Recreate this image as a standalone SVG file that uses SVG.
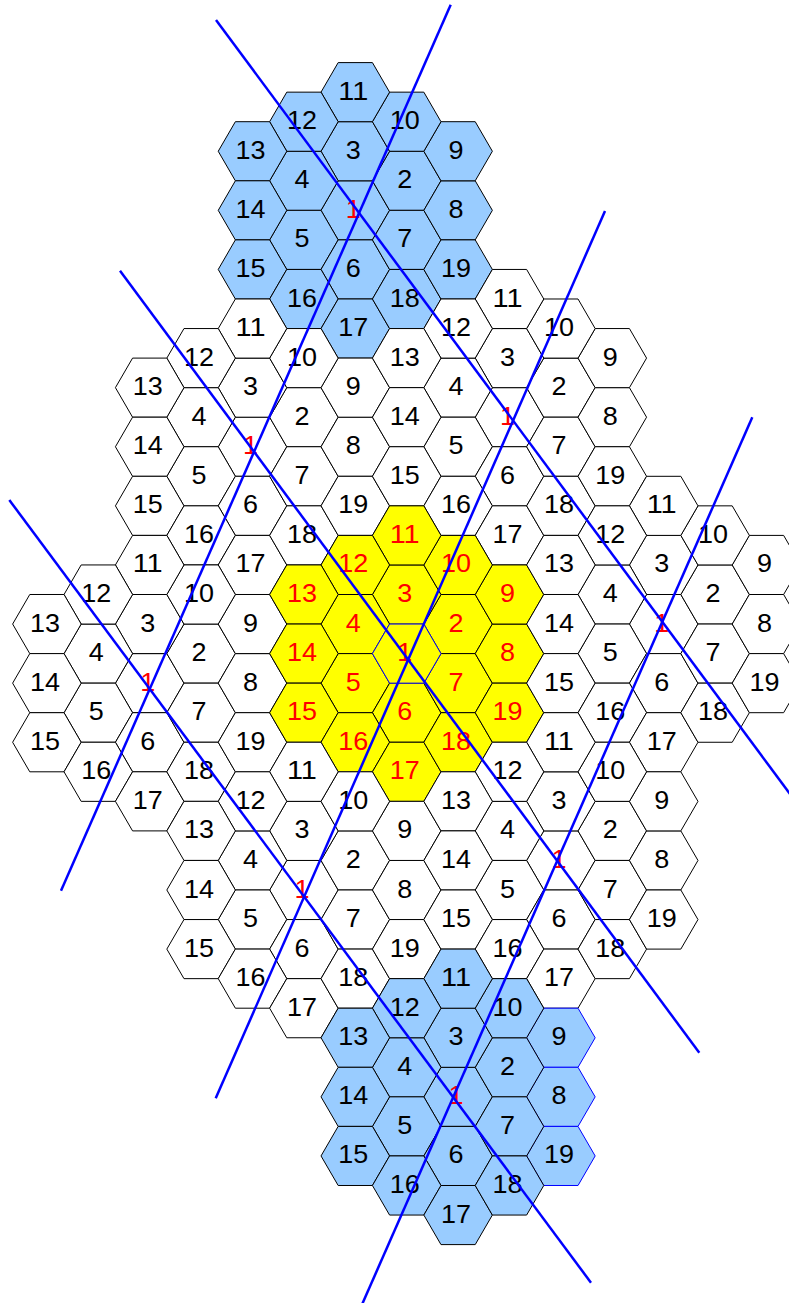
<svg xmlns="http://www.w3.org/2000/svg" width="789" height="1303" viewBox="0 0 789 1303">
<style>
.w{fill:#ffffff;stroke:#000000;stroke-width:1}
.b{fill:#99ccff;stroke:#000000;stroke-width:1}
.y{fill:#ffff00;stroke:#000000;stroke-width:1}
.bs{stroke:#0000ff}
text{font-family:"Liberation Sans",Arial,sans-serif;font-size:25.5px;text-anchor:middle;fill:#000000}
text.r{fill:#ff0000}
.ln{stroke:#0000ff;stroke-width:2.5;fill:none}
</style>
<defs>
<polygon id="hx" points="-34.27,0 -17.13,-29.55 17.13,-29.55 34.27,0 17.13,29.55 -17.13,29.55"/>
</defs>
<rect width="789" height="1303" fill="#ffffff"/>
<g id="cluster-top">
<g id="t1" transform="translate(355.3,210.35)"><use href="#hx" class="b"/><text class="r" x="-2" y="7.5" textLength="15" lengthAdjust="spacingAndGlyphs">1</text></g>
<g id="t2" transform="translate(406.7,180.8)"><use href="#hx" class="b"/><text x="-2" y="7.5" textLength="15" lengthAdjust="spacingAndGlyphs">2</text></g>
<g id="t3" transform="translate(355.3,151.25)"><use href="#hx" class="b"/><text x="-2" y="7.5" textLength="15" lengthAdjust="spacingAndGlyphs">3</text></g>
<g id="t4" transform="translate(303.9,180.8)"><use href="#hx" class="b"/><text x="-2" y="7.5" textLength="15" lengthAdjust="spacingAndGlyphs">4</text></g>
<g id="t5" transform="translate(303.9,239.9)"><use href="#hx" class="b"/><text x="-2" y="7.5" textLength="15" lengthAdjust="spacingAndGlyphs">5</text></g>
<g id="t6" transform="translate(355.3,269.45)"><use href="#hx" class="b"/><text x="-2" y="7.5" textLength="15" lengthAdjust="spacingAndGlyphs">6</text></g>
<g id="t7" transform="translate(406.7,239.9)"><use href="#hx" class="b"/><text x="-2" y="7.5" textLength="15" lengthAdjust="spacingAndGlyphs">7</text></g>
<g id="t8" transform="translate(458.1,210.35)"><use href="#hx" class="b"/><text x="-2" y="7.5" textLength="15" lengthAdjust="spacingAndGlyphs">8</text></g>
<g id="t9" transform="translate(458.1,151.25)"><use href="#hx" class="b"/><text x="-2" y="7.5" textLength="15" lengthAdjust="spacingAndGlyphs">9</text></g>
<g id="t10" transform="translate(406.7,121.7)"><use href="#hx" class="b"/><text x="-2" y="7.5" textLength="30" lengthAdjust="spacingAndGlyphs">10</text></g>
<g id="t11" transform="translate(355.3,92.15)"><use href="#hx" class="b"/><text x="-2" y="7.5" textLength="30" lengthAdjust="spacingAndGlyphs">11</text></g>
<g id="t12" transform="translate(303.9,121.7)"><use href="#hx" class="b"/><text x="-2" y="7.5" textLength="30" lengthAdjust="spacingAndGlyphs">12</text></g>
<g id="t13" transform="translate(252.5,151.25)"><use href="#hx" class="b"/><text x="-2" y="7.5" textLength="30" lengthAdjust="spacingAndGlyphs">13</text></g>
<g id="t14" transform="translate(252.5,210.35)"><use href="#hx" class="b"/><text x="-2" y="7.5" textLength="30" lengthAdjust="spacingAndGlyphs">14</text></g>
<g id="t15" transform="translate(252.5,269.45)"><use href="#hx" class="b"/><text x="-2" y="7.5" textLength="30" lengthAdjust="spacingAndGlyphs">15</text></g>
<g id="t16" transform="translate(303.9,299)"><use href="#hx" class="b"/><text x="-2" y="7.5" textLength="30" lengthAdjust="spacingAndGlyphs">16</text></g>
<g id="t17" transform="translate(355.3,328.55)"><use href="#hx" class="b"/><text x="-2" y="7.5" textLength="30" lengthAdjust="spacingAndGlyphs">17</text></g>
<g id="t18" transform="translate(406.7,299)"><use href="#hx" class="b"/><text x="-2" y="7.5" textLength="30" lengthAdjust="spacingAndGlyphs">18</text></g>
<g id="t19" transform="translate(458.1,269.45)"><use href="#hx" class="b"/><text x="-2" y="7.5" textLength="30" lengthAdjust="spacingAndGlyphs">19</text></g>
</g>
<g id="cluster-nw">
<g id="nw1" transform="translate(252.5,446.75)"><use href="#hx" class="w"/><text class="r" x="-2" y="7.5" textLength="15" lengthAdjust="spacingAndGlyphs">1</text></g>
<g id="nw2" transform="translate(303.9,417.2)"><use href="#hx" class="w"/><text x="-2" y="7.5" textLength="15" lengthAdjust="spacingAndGlyphs">2</text></g>
<g id="nw3" transform="translate(252.5,387.65)"><use href="#hx" class="w"/><text x="-2" y="7.5" textLength="15" lengthAdjust="spacingAndGlyphs">3</text></g>
<g id="nw4" transform="translate(201.1,417.2)"><use href="#hx" class="w"/><text x="-2" y="7.5" textLength="15" lengthAdjust="spacingAndGlyphs">4</text></g>
<g id="nw5" transform="translate(201.1,476.3)"><use href="#hx" class="w"/><text x="-2" y="7.5" textLength="15" lengthAdjust="spacingAndGlyphs">5</text></g>
<g id="nw6" transform="translate(252.5,505.85)"><use href="#hx" class="w"/><text x="-2" y="7.5" textLength="15" lengthAdjust="spacingAndGlyphs">6</text></g>
<g id="nw7" transform="translate(303.9,476.3)"><use href="#hx" class="w"/><text x="-2" y="7.5" textLength="15" lengthAdjust="spacingAndGlyphs">7</text></g>
<g id="nw8" transform="translate(355.3,446.75)"><use href="#hx" class="w"/><text x="-2" y="7.5" textLength="15" lengthAdjust="spacingAndGlyphs">8</text></g>
<g id="nw9" transform="translate(355.3,387.65)"><use href="#hx" class="w"/><text x="-2" y="7.5" textLength="15" lengthAdjust="spacingAndGlyphs">9</text></g>
<g id="nw10" transform="translate(303.9,358.1)"><use href="#hx" class="w"/><text x="-2" y="7.5" textLength="30" lengthAdjust="spacingAndGlyphs">10</text></g>
<g id="nw11" transform="translate(252.5,328.55)"><use href="#hx" class="w"/><text x="-2" y="7.5" textLength="30" lengthAdjust="spacingAndGlyphs">11</text></g>
<g id="nw12" transform="translate(201.1,358.1)"><use href="#hx" class="w"/><text x="-2" y="7.5" textLength="30" lengthAdjust="spacingAndGlyphs">12</text></g>
<g id="nw13" transform="translate(149.7,387.65)"><use href="#hx" class="w"/><text x="-2" y="7.5" textLength="30" lengthAdjust="spacingAndGlyphs">13</text></g>
<g id="nw14" transform="translate(149.7,446.75)"><use href="#hx" class="w"/><text x="-2" y="7.5" textLength="30" lengthAdjust="spacingAndGlyphs">14</text></g>
<g id="nw15" transform="translate(149.7,505.85)"><use href="#hx" class="w"/><text x="-2" y="7.5" textLength="30" lengthAdjust="spacingAndGlyphs">15</text></g>
<g id="nw16" transform="translate(201.1,535.4)"><use href="#hx" class="w"/><text x="-2" y="7.5" textLength="30" lengthAdjust="spacingAndGlyphs">16</text></g>
<g id="nw17" transform="translate(252.5,564.95)"><use href="#hx" class="w"/><text x="-2" y="7.5" textLength="30" lengthAdjust="spacingAndGlyphs">17</text></g>
<g id="nw18" transform="translate(303.9,535.4)"><use href="#hx" class="w"/><text x="-2" y="7.5" textLength="30" lengthAdjust="spacingAndGlyphs">18</text></g>
<g id="nw19" transform="translate(355.3,505.85)"><use href="#hx" class="w"/><text x="-2" y="7.5" textLength="30" lengthAdjust="spacingAndGlyphs">19</text></g>
</g>
<g id="cluster-ne">
<g id="ne1" transform="translate(509.5,417.2)"><use href="#hx" class="w"/><text class="r" x="-2" y="7.5" textLength="15" lengthAdjust="spacingAndGlyphs">1</text></g>
<g id="ne2" transform="translate(560.9,387.65)"><use href="#hx" class="w"/><text x="-2" y="7.5" textLength="15" lengthAdjust="spacingAndGlyphs">2</text></g>
<g id="ne3" transform="translate(509.5,358.1)"><use href="#hx" class="w"/><text x="-2" y="7.5" textLength="15" lengthAdjust="spacingAndGlyphs">3</text></g>
<g id="ne4" transform="translate(458.1,387.65)"><use href="#hx" class="w"/><text x="-2" y="7.5" textLength="15" lengthAdjust="spacingAndGlyphs">4</text></g>
<g id="ne5" transform="translate(458.1,446.75)"><use href="#hx" class="w"/><text x="-2" y="7.5" textLength="15" lengthAdjust="spacingAndGlyphs">5</text></g>
<g id="ne6" transform="translate(509.5,476.3)"><use href="#hx" class="w"/><text x="-2" y="7.5" textLength="15" lengthAdjust="spacingAndGlyphs">6</text></g>
<g id="ne7" transform="translate(560.9,446.75)"><use href="#hx" class="w"/><text x="-2" y="7.5" textLength="15" lengthAdjust="spacingAndGlyphs">7</text></g>
<g id="ne8" transform="translate(612.3,417.2)"><use href="#hx" class="w"/><text x="-2" y="7.5" textLength="15" lengthAdjust="spacingAndGlyphs">8</text></g>
<g id="ne9" transform="translate(612.3,358.1)"><use href="#hx" class="w"/><text x="-2" y="7.5" textLength="15" lengthAdjust="spacingAndGlyphs">9</text></g>
<g id="ne10" transform="translate(560.9,328.55)"><use href="#hx" class="w"/><text x="-2" y="7.5" textLength="30" lengthAdjust="spacingAndGlyphs">10</text></g>
<g id="ne11" transform="translate(509.5,299)"><use href="#hx" class="w"/><text x="-2" y="7.5" textLength="30" lengthAdjust="spacingAndGlyphs">11</text></g>
<g id="ne12" transform="translate(458.1,328.55)"><use href="#hx" class="w"/><text x="-2" y="7.5" textLength="30" lengthAdjust="spacingAndGlyphs">12</text></g>
<g id="ne13" transform="translate(406.7,358.1)"><use href="#hx" class="w"/><text x="-2" y="7.5" textLength="30" lengthAdjust="spacingAndGlyphs">13</text></g>
<g id="ne14" transform="translate(406.7,417.2)"><use href="#hx" class="w"/><text x="-2" y="7.5" textLength="30" lengthAdjust="spacingAndGlyphs">14</text></g>
<g id="ne15" transform="translate(406.7,476.3)"><use href="#hx" class="w"/><text x="-2" y="7.5" textLength="30" lengthAdjust="spacingAndGlyphs">15</text></g>
<g id="ne16" transform="translate(458.1,505.85)"><use href="#hx" class="w"/><text x="-2" y="7.5" textLength="30" lengthAdjust="spacingAndGlyphs">16</text></g>
<g id="ne17" transform="translate(509.5,535.4)"><use href="#hx" class="w"/><text x="-2" y="7.5" textLength="30" lengthAdjust="spacingAndGlyphs">17</text></g>
<g id="ne18" transform="translate(560.9,505.85)"><use href="#hx" class="w"/><text x="-2" y="7.5" textLength="30" lengthAdjust="spacingAndGlyphs">18</text></g>
<g id="ne19" transform="translate(612.3,476.3)"><use href="#hx" class="w"/><text x="-2" y="7.5" textLength="30" lengthAdjust="spacingAndGlyphs">19</text></g>
</g>
<g id="cluster-w">
<g id="w1" transform="translate(149.7,683.15)"><use href="#hx" class="w"/><text class="r" x="-2" y="7.5" textLength="15" lengthAdjust="spacingAndGlyphs">1</text></g>
<g id="w2" transform="translate(201.1,653.6)"><use href="#hx" class="w"/><text x="-2" y="7.5" textLength="15" lengthAdjust="spacingAndGlyphs">2</text></g>
<g id="w3" transform="translate(149.7,624.05)"><use href="#hx" class="w"/><text x="-2" y="7.5" textLength="15" lengthAdjust="spacingAndGlyphs">3</text></g>
<g id="w4" transform="translate(98.3,653.6)"><use href="#hx" class="w"/><text x="-2" y="7.5" textLength="15" lengthAdjust="spacingAndGlyphs">4</text></g>
<g id="w5" transform="translate(98.3,712.7)"><use href="#hx" class="w"/><text x="-2" y="7.5" textLength="15" lengthAdjust="spacingAndGlyphs">5</text></g>
<g id="w6" transform="translate(149.7,742.25)"><use href="#hx" class="w"/><text x="-2" y="7.5" textLength="15" lengthAdjust="spacingAndGlyphs">6</text></g>
<g id="w7" transform="translate(201.1,712.7)"><use href="#hx" class="w"/><text x="-2" y="7.5" textLength="15" lengthAdjust="spacingAndGlyphs">7</text></g>
<g id="w8" transform="translate(252.5,683.15)"><use href="#hx" class="w"/><text x="-2" y="7.5" textLength="15" lengthAdjust="spacingAndGlyphs">8</text></g>
<g id="w9" transform="translate(252.5,624.05)"><use href="#hx" class="w"/><text x="-2" y="7.5" textLength="15" lengthAdjust="spacingAndGlyphs">9</text></g>
<g id="w10" transform="translate(201.1,594.5)"><use href="#hx" class="w"/><text x="-2" y="7.5" textLength="30" lengthAdjust="spacingAndGlyphs">10</text></g>
<g id="w11" transform="translate(149.7,564.95)"><use href="#hx" class="w"/><text x="-2" y="7.5" textLength="30" lengthAdjust="spacingAndGlyphs">11</text></g>
<g id="w12" transform="translate(98.3,594.5)"><use href="#hx" class="w"/><text x="-2" y="7.5" textLength="30" lengthAdjust="spacingAndGlyphs">12</text></g>
<g id="w13" transform="translate(46.9,624.05)"><use href="#hx" class="w"/><text x="-2" y="7.5" textLength="30" lengthAdjust="spacingAndGlyphs">13</text></g>
<g id="w14" transform="translate(46.9,683.15)"><use href="#hx" class="w"/><text x="-2" y="7.5" textLength="30" lengthAdjust="spacingAndGlyphs">14</text></g>
<g id="w15" transform="translate(46.9,742.25)"><use href="#hx" class="w"/><text x="-2" y="7.5" textLength="30" lengthAdjust="spacingAndGlyphs">15</text></g>
<g id="w16" transform="translate(98.3,771.8)"><use href="#hx" class="w"/><text x="-2" y="7.5" textLength="30" lengthAdjust="spacingAndGlyphs">16</text></g>
<g id="w17" transform="translate(149.7,801.35)"><use href="#hx" class="w"/><text x="-2" y="7.5" textLength="30" lengthAdjust="spacingAndGlyphs">17</text></g>
<g id="w18" transform="translate(201.1,771.8)"><use href="#hx" class="w"/><text x="-2" y="7.5" textLength="30" lengthAdjust="spacingAndGlyphs">18</text></g>
<g id="w19" transform="translate(252.5,742.25)"><use href="#hx" class="w"/><text x="-2" y="7.5" textLength="30" lengthAdjust="spacingAndGlyphs">19</text></g>
</g>
<g id="cluster-center">
<g id="c2" transform="translate(458.1,624.05)"><use href="#hx" class="y"/><text class="r" x="-2" y="7.5" textLength="15" lengthAdjust="spacingAndGlyphs">2</text></g>
<g id="c3" transform="translate(406.7,594.5)"><use href="#hx" class="y"/><text class="r" x="-2" y="7.5" textLength="15" lengthAdjust="spacingAndGlyphs">3</text></g>
<g id="c4" transform="translate(355.3,624.05)"><use href="#hx" class="y"/><text class="r" x="-2" y="7.5" textLength="15" lengthAdjust="spacingAndGlyphs">4</text></g>
<g id="c5" transform="translate(355.3,683.15)"><use href="#hx" class="y"/><text class="r" x="-2" y="7.5" textLength="15" lengthAdjust="spacingAndGlyphs">5</text></g>
<g id="c6" transform="translate(406.7,712.7)"><use href="#hx" class="y"/><text class="r" x="-2" y="7.5" textLength="15" lengthAdjust="spacingAndGlyphs">6</text></g>
<g id="c7" transform="translate(458.1,683.15)"><use href="#hx" class="y"/><text class="r" x="-2" y="7.5" textLength="15" lengthAdjust="spacingAndGlyphs">7</text></g>
<g id="c8" transform="translate(509.5,653.6)"><use href="#hx" class="y"/><text class="r" x="-2" y="7.5" textLength="15" lengthAdjust="spacingAndGlyphs">8</text></g>
<g id="c9" transform="translate(509.5,594.5)"><use href="#hx" class="y"/><text class="r" x="-2" y="7.5" textLength="15" lengthAdjust="spacingAndGlyphs">9</text></g>
<g id="c10" transform="translate(458.1,564.95)"><use href="#hx" class="y"/><text class="r" x="-2" y="7.5" textLength="30" lengthAdjust="spacingAndGlyphs">10</text></g>
<g id="c11" transform="translate(406.7,535.4)"><use href="#hx" class="y"/><text class="r" x="-2" y="7.5" textLength="30" lengthAdjust="spacingAndGlyphs">11</text></g>
<g id="c12" transform="translate(355.3,564.95)"><use href="#hx" class="y"/><text class="r" x="-2" y="7.5" textLength="30" lengthAdjust="spacingAndGlyphs">12</text></g>
<g id="c13" transform="translate(303.9,594.5)"><use href="#hx" class="y"/><text class="r" x="-2" y="7.5" textLength="30" lengthAdjust="spacingAndGlyphs">13</text></g>
<g id="c14" transform="translate(303.9,653.6)"><use href="#hx" class="y"/><text class="r" x="-2" y="7.5" textLength="30" lengthAdjust="spacingAndGlyphs">14</text></g>
<g id="c15" transform="translate(303.9,712.7)"><use href="#hx" class="y"/><text class="r" x="-2" y="7.5" textLength="30" lengthAdjust="spacingAndGlyphs">15</text></g>
<g id="c16" transform="translate(355.3,742.25)"><use href="#hx" class="y"/><text class="r" x="-2" y="7.5" textLength="30" lengthAdjust="spacingAndGlyphs">16</text></g>
<g id="c17" transform="translate(406.7,771.8)"><use href="#hx" class="y"/><text class="r" x="-2" y="7.5" textLength="30" lengthAdjust="spacingAndGlyphs">17</text></g>
<g id="c18" transform="translate(458.1,742.25)"><use href="#hx" class="y"/><text class="r" x="-2" y="7.5" textLength="30" lengthAdjust="spacingAndGlyphs">18</text></g>
<g id="c19" transform="translate(509.5,712.7)"><use href="#hx" class="y"/><text class="r" x="-2" y="7.5" textLength="30" lengthAdjust="spacingAndGlyphs">19</text></g>
<g id="c1" transform="translate(406.7,653.6)"><use href="#hx" class="y bs"/><text class="r" x="-2" y="7.5" textLength="15" lengthAdjust="spacingAndGlyphs">1</text></g>
</g>
<g id="cluster-e">
<g id="e1" transform="translate(663.7,624.05)"><use href="#hx" class="w"/><text class="r" x="-2" y="7.5" textLength="15" lengthAdjust="spacingAndGlyphs">1</text></g>
<g id="e2" transform="translate(715.1,594.5)"><use href="#hx" class="w"/><text x="-2" y="7.5" textLength="15" lengthAdjust="spacingAndGlyphs">2</text></g>
<g id="e3" transform="translate(663.7,564.95)"><use href="#hx" class="w"/><text x="-2" y="7.5" textLength="15" lengthAdjust="spacingAndGlyphs">3</text></g>
<g id="e4" transform="translate(612.3,594.5)"><use href="#hx" class="w"/><text x="-2" y="7.5" textLength="15" lengthAdjust="spacingAndGlyphs">4</text></g>
<g id="e5" transform="translate(612.3,653.6)"><use href="#hx" class="w"/><text x="-2" y="7.5" textLength="15" lengthAdjust="spacingAndGlyphs">5</text></g>
<g id="e6" transform="translate(663.7,683.15)"><use href="#hx" class="w"/><text x="-2" y="7.5" textLength="15" lengthAdjust="spacingAndGlyphs">6</text></g>
<g id="e7" transform="translate(715.1,653.6)"><use href="#hx" class="w"/><text x="-2" y="7.5" textLength="15" lengthAdjust="spacingAndGlyphs">7</text></g>
<g id="e8" transform="translate(766.5,624.05)"><use href="#hx" class="w"/><text x="-2" y="7.5" textLength="15" lengthAdjust="spacingAndGlyphs">8</text></g>
<g id="e9" transform="translate(766.5,564.95)"><use href="#hx" class="w"/><text x="-2" y="7.5" textLength="15" lengthAdjust="spacingAndGlyphs">9</text></g>
<g id="e10" transform="translate(715.1,535.4)"><use href="#hx" class="w"/><text x="-2" y="7.5" textLength="30" lengthAdjust="spacingAndGlyphs">10</text></g>
<g id="e11" transform="translate(663.7,505.85)"><use href="#hx" class="w"/><text x="-2" y="7.5" textLength="30" lengthAdjust="spacingAndGlyphs">11</text></g>
<g id="e12" transform="translate(612.3,535.4)"><use href="#hx" class="w"/><text x="-2" y="7.5" textLength="30" lengthAdjust="spacingAndGlyphs">12</text></g>
<g id="e13" transform="translate(560.9,564.95)"><use href="#hx" class="w"/><text x="-2" y="7.5" textLength="30" lengthAdjust="spacingAndGlyphs">13</text></g>
<g id="e14" transform="translate(560.9,624.05)"><use href="#hx" class="w"/><text x="-2" y="7.5" textLength="30" lengthAdjust="spacingAndGlyphs">14</text></g>
<g id="e15" transform="translate(560.9,683.15)"><use href="#hx" class="w"/><text x="-2" y="7.5" textLength="30" lengthAdjust="spacingAndGlyphs">15</text></g>
<g id="e16" transform="translate(612.3,712.7)"><use href="#hx" class="w"/><text x="-2" y="7.5" textLength="30" lengthAdjust="spacingAndGlyphs">16</text></g>
<g id="e17" transform="translate(663.7,742.25)"><use href="#hx" class="w"/><text x="-2" y="7.5" textLength="30" lengthAdjust="spacingAndGlyphs">17</text></g>
<g id="e18" transform="translate(715.1,712.7)"><use href="#hx" class="w"/><text x="-2" y="7.5" textLength="30" lengthAdjust="spacingAndGlyphs">18</text></g>
<g id="e19" transform="translate(766.5,683.15)"><use href="#hx" class="w"/><text x="-2" y="7.5" textLength="30" lengthAdjust="spacingAndGlyphs">19</text></g>
</g>
<g id="cluster-sw">
<g id="sw1" transform="translate(303.9,890)"><use href="#hx" class="w"/><text class="r" x="-2" y="7.5" textLength="15" lengthAdjust="spacingAndGlyphs">1</text></g>
<g id="sw2" transform="translate(355.3,860.45)"><use href="#hx" class="w"/><text x="-2" y="7.5" textLength="15" lengthAdjust="spacingAndGlyphs">2</text></g>
<g id="sw3" transform="translate(303.9,830.9)"><use href="#hx" class="w"/><text x="-2" y="7.5" textLength="15" lengthAdjust="spacingAndGlyphs">3</text></g>
<g id="sw4" transform="translate(252.5,860.45)"><use href="#hx" class="w"/><text x="-2" y="7.5" textLength="15" lengthAdjust="spacingAndGlyphs">4</text></g>
<g id="sw5" transform="translate(252.5,919.55)"><use href="#hx" class="w"/><text x="-2" y="7.5" textLength="15" lengthAdjust="spacingAndGlyphs">5</text></g>
<g id="sw6" transform="translate(303.9,949.1)"><use href="#hx" class="w"/><text x="-2" y="7.5" textLength="15" lengthAdjust="spacingAndGlyphs">6</text></g>
<g id="sw7" transform="translate(355.3,919.55)"><use href="#hx" class="w"/><text x="-2" y="7.5" textLength="15" lengthAdjust="spacingAndGlyphs">7</text></g>
<g id="sw8" transform="translate(406.7,890)"><use href="#hx" class="w"/><text x="-2" y="7.5" textLength="15" lengthAdjust="spacingAndGlyphs">8</text></g>
<g id="sw9" transform="translate(406.7,830.9)"><use href="#hx" class="w"/><text x="-2" y="7.5" textLength="15" lengthAdjust="spacingAndGlyphs">9</text></g>
<g id="sw10" transform="translate(355.3,801.35)"><use href="#hx" class="w"/><text x="-2" y="7.5" textLength="30" lengthAdjust="spacingAndGlyphs">10</text></g>
<g id="sw11" transform="translate(303.9,771.8)"><use href="#hx" class="w"/><text x="-2" y="7.5" textLength="30" lengthAdjust="spacingAndGlyphs">11</text></g>
<g id="sw12" transform="translate(252.5,801.35)"><use href="#hx" class="w"/><text x="-2" y="7.5" textLength="30" lengthAdjust="spacingAndGlyphs">12</text></g>
<g id="sw13" transform="translate(201.1,830.9)"><use href="#hx" class="w"/><text x="-2" y="7.5" textLength="30" lengthAdjust="spacingAndGlyphs">13</text></g>
<g id="sw14" transform="translate(201.1,890)"><use href="#hx" class="w"/><text x="-2" y="7.5" textLength="30" lengthAdjust="spacingAndGlyphs">14</text></g>
<g id="sw15" transform="translate(201.1,949.1)"><use href="#hx" class="w"/><text x="-2" y="7.5" textLength="30" lengthAdjust="spacingAndGlyphs">15</text></g>
<g id="sw16" transform="translate(252.5,978.65)"><use href="#hx" class="w"/><text x="-2" y="7.5" textLength="30" lengthAdjust="spacingAndGlyphs">16</text></g>
<g id="sw17" transform="translate(303.9,1008.2)"><use href="#hx" class="w"/><text x="-2" y="7.5" textLength="30" lengthAdjust="spacingAndGlyphs">17</text></g>
<g id="sw18" transform="translate(355.3,978.65)"><use href="#hx" class="w"/><text x="-2" y="7.5" textLength="30" lengthAdjust="spacingAndGlyphs">18</text></g>
<g id="sw19" transform="translate(406.7,949.1)"><use href="#hx" class="w"/><text x="-2" y="7.5" textLength="30" lengthAdjust="spacingAndGlyphs">19</text></g>
</g>
<g id="cluster-se">
<g id="se1" transform="translate(560.9,860.45)"><use href="#hx" class="w"/><text class="r" x="-2" y="7.5" textLength="15" lengthAdjust="spacingAndGlyphs">1</text></g>
<g id="se2" transform="translate(612.3,830.9)"><use href="#hx" class="w"/><text x="-2" y="7.5" textLength="15" lengthAdjust="spacingAndGlyphs">2</text></g>
<g id="se3" transform="translate(560.9,801.35)"><use href="#hx" class="w"/><text x="-2" y="7.5" textLength="15" lengthAdjust="spacingAndGlyphs">3</text></g>
<g id="se4" transform="translate(509.5,830.9)"><use href="#hx" class="w"/><text x="-2" y="7.5" textLength="15" lengthAdjust="spacingAndGlyphs">4</text></g>
<g id="se5" transform="translate(509.5,890)"><use href="#hx" class="w"/><text x="-2" y="7.5" textLength="15" lengthAdjust="spacingAndGlyphs">5</text></g>
<g id="se6" transform="translate(560.9,919.55)"><use href="#hx" class="w"/><text x="-2" y="7.5" textLength="15" lengthAdjust="spacingAndGlyphs">6</text></g>
<g id="se7" transform="translate(612.3,890)"><use href="#hx" class="w"/><text x="-2" y="7.5" textLength="15" lengthAdjust="spacingAndGlyphs">7</text></g>
<g id="se8" transform="translate(663.7,860.45)"><use href="#hx" class="w"/><text x="-2" y="7.5" textLength="15" lengthAdjust="spacingAndGlyphs">8</text></g>
<g id="se9" transform="translate(663.7,801.35)"><use href="#hx" class="w"/><text x="-2" y="7.5" textLength="15" lengthAdjust="spacingAndGlyphs">9</text></g>
<g id="se10" transform="translate(612.3,771.8)"><use href="#hx" class="w"/><text x="-2" y="7.5" textLength="30" lengthAdjust="spacingAndGlyphs">10</text></g>
<g id="se11" transform="translate(560.9,742.25)"><use href="#hx" class="w"/><text x="-2" y="7.5" textLength="30" lengthAdjust="spacingAndGlyphs">11</text></g>
<g id="se12" transform="translate(509.5,771.8)"><use href="#hx" class="w"/><text x="-2" y="7.5" textLength="30" lengthAdjust="spacingAndGlyphs">12</text></g>
<g id="se13" transform="translate(458.1,801.35)"><use href="#hx" class="w"/><text x="-2" y="7.5" textLength="30" lengthAdjust="spacingAndGlyphs">13</text></g>
<g id="se14" transform="translate(458.1,860.45)"><use href="#hx" class="w"/><text x="-2" y="7.5" textLength="30" lengthAdjust="spacingAndGlyphs">14</text></g>
<g id="se15" transform="translate(458.1,919.55)"><use href="#hx" class="w"/><text x="-2" y="7.5" textLength="30" lengthAdjust="spacingAndGlyphs">15</text></g>
<g id="se16" transform="translate(509.5,949.1)"><use href="#hx" class="w"/><text x="-2" y="7.5" textLength="30" lengthAdjust="spacingAndGlyphs">16</text></g>
<g id="se17" transform="translate(560.9,978.65)"><use href="#hx" class="w"/><text x="-2" y="7.5" textLength="30" lengthAdjust="spacingAndGlyphs">17</text></g>
<g id="se18" transform="translate(612.3,949.1)"><use href="#hx" class="w"/><text x="-2" y="7.5" textLength="30" lengthAdjust="spacingAndGlyphs">18</text></g>
<g id="se19" transform="translate(663.7,919.55)"><use href="#hx" class="w"/><text x="-2" y="7.5" textLength="30" lengthAdjust="spacingAndGlyphs">19</text></g>
</g>
<g id="cluster-bottom">
<g id="b9" transform="translate(560.9,1037.75)"><use href="#hx" class="b bs"/><text x="-2" y="7.5" textLength="15" lengthAdjust="spacingAndGlyphs">9</text></g>
<g id="b8" transform="translate(560.9,1096.85)"><use href="#hx" class="b bs"/><text x="-2" y="7.5" textLength="15" lengthAdjust="spacingAndGlyphs">8</text></g>
<g id="b19" transform="translate(560.9,1155.95)"><use href="#hx" class="b bs"/><text x="-2" y="7.5" textLength="30" lengthAdjust="spacingAndGlyphs">19</text></g>
<g id="b1" transform="translate(458.1,1096.85)"><use href="#hx" class="b"/><text class="r" x="-2" y="7.5" textLength="15" lengthAdjust="spacingAndGlyphs">1</text></g>
<g id="b2" transform="translate(509.5,1067.3)"><use href="#hx" class="b"/><text x="-2" y="7.5" textLength="15" lengthAdjust="spacingAndGlyphs">2</text></g>
<g id="b3" transform="translate(458.1,1037.75)"><use href="#hx" class="b"/><text x="-2" y="7.5" textLength="15" lengthAdjust="spacingAndGlyphs">3</text></g>
<g id="b4" transform="translate(406.7,1067.3)"><use href="#hx" class="b"/><text x="-2" y="7.5" textLength="15" lengthAdjust="spacingAndGlyphs">4</text></g>
<g id="b5" transform="translate(406.7,1126.4)"><use href="#hx" class="b"/><text x="-2" y="7.5" textLength="15" lengthAdjust="spacingAndGlyphs">5</text></g>
<g id="b6" transform="translate(458.1,1155.95)"><use href="#hx" class="b"/><text x="-2" y="7.5" textLength="15" lengthAdjust="spacingAndGlyphs">6</text></g>
<g id="b7" transform="translate(509.5,1126.4)"><use href="#hx" class="b"/><text x="-2" y="7.5" textLength="15" lengthAdjust="spacingAndGlyphs">7</text></g>
<g id="b10" transform="translate(509.5,1008.2)"><use href="#hx" class="b"/><text x="-2" y="7.5" textLength="30" lengthAdjust="spacingAndGlyphs">10</text></g>
<g id="b11" transform="translate(458.1,978.65)"><use href="#hx" class="b"/><text x="-2" y="7.5" textLength="30" lengthAdjust="spacingAndGlyphs">11</text></g>
<g id="b12" transform="translate(406.7,1008.2)"><use href="#hx" class="b"/><text x="-2" y="7.5" textLength="30" lengthAdjust="spacingAndGlyphs">12</text></g>
<g id="b13" transform="translate(355.3,1037.75)"><use href="#hx" class="b"/><text x="-2" y="7.5" textLength="30" lengthAdjust="spacingAndGlyphs">13</text></g>
<g id="b14" transform="translate(355.3,1096.85)"><use href="#hx" class="b"/><text x="-2" y="7.5" textLength="30" lengthAdjust="spacingAndGlyphs">14</text></g>
<g id="b15" transform="translate(355.3,1155.95)"><use href="#hx" class="b"/><text x="-2" y="7.5" textLength="30" lengthAdjust="spacingAndGlyphs">15</text></g>
<g id="b16" transform="translate(406.7,1185.5)"><use href="#hx" class="b"/><text x="-2" y="7.5" textLength="30" lengthAdjust="spacingAndGlyphs">16</text></g>
<g id="b17" transform="translate(458.1,1215.05)"><use href="#hx" class="b"/><text x="-2" y="7.5" textLength="30" lengthAdjust="spacingAndGlyphs">17</text></g>
<g id="b18" transform="translate(509.5,1185.5)"><use href="#hx" class="b"/><text x="-2" y="7.5" textLength="30" lengthAdjust="spacingAndGlyphs">18</text></g>
</g>
<g id="connectors">
<line class="ln" x1="216" y1="20" x2="790" y2="794"/>
<line class="ln" x1="120" y1="270.7" x2="699.3" y2="1052.7"/>
<line class="ln" x1="9.3" y1="500" x2="591" y2="1282.7"/>
<line class="ln" x1="450.7" y1="4.7" x2="61" y2="890.7"/>
<line class="ln" x1="605" y1="211" x2="215.7" y2="1098.3"/>
<line class="ln" x1="752.3" y1="417.3" x2="361.8" y2="1305"/>
</g>
</svg>
